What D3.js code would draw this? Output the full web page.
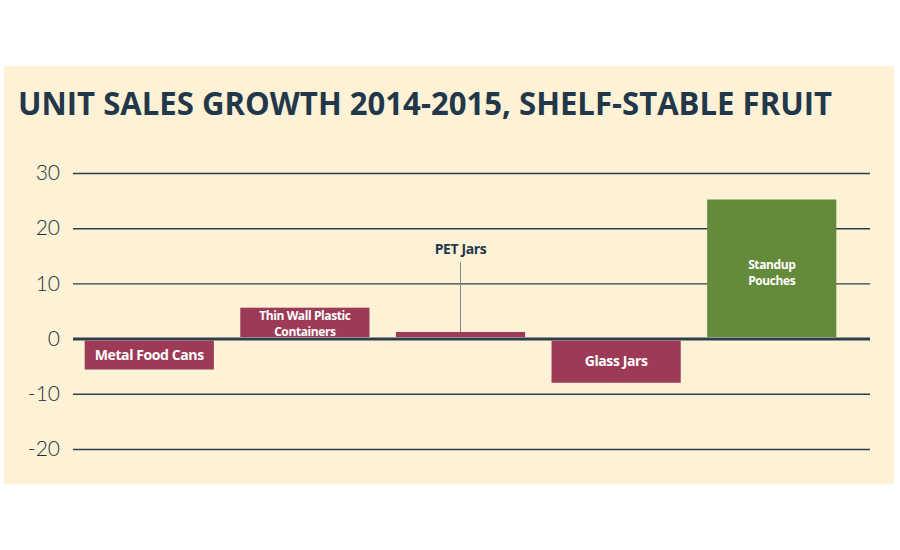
<!DOCTYPE html>
<html lang="en">
<head>
<meta charset="UTF-8"/>
<title>Unit Sales Growth 2014-2015</title>
<script src="https://d3js.org/d3.v7.min.js"></script>
<style>
  body { margin: 0; background: #ffffff; }
</style>
</head>
<body>
<div id="chart"></div>
<script>
    let width = 900;
    let height = 550;

    // data
    var categories = ["Metal Food Cans", "Thin Wall Plastic Containers", "PET Jars", "Glass Jars", "Standup Pouches"];
    var growth = [-5.6, 5.6, 1.2, -8.0, 25.2];
    var labelLines = [["Metal Food Cans"], ["Thin Wall Plastic", "Containers"], ["PET Jars"], ["Glass Jars"], ["Standup", "Pouches"]];
    var yTicks = [30, 20, 10, 0, -10, -20];

    var svg = d3.select("#chart").append("svg").attr("width", width).attr("height", height);

    // beige panel
    svg.append("rect")
        .attr("x", 4).attr("y", 66)
        .attr("width", 890).attr("height", 418)
        .attr("fill", "#fdf2d6");

    svg.append("text")
        .attr("x", 18).attr("y", 115)
        .attr("font-family", "'Open Sans', sans-serif")
        .attr("font-weight", 700)
        .attr("font-size", 33)
        .attr("fill", "#22384a")
        .attr("textLength", 814)
        .attr("lengthAdjust", "spacingAndGlyphs")
        .text("UNIT SALES GROWTH 2014-2015, SHELF-STABLE FRUIT");

    var yScale = d3.scaleLinear().domain([-20, 30]).range([449, 173]);

    var xScale = d3.scaleBand().domain(categories)
        .range([73, 848]).paddingInner(0.17).paddingOuter(0.075);

    // grid lines via axis
    var gy = svg.append("g").attr("transform", "translate(870,0)");
    gy.call(d3.axisLeft(yScale).tickValues(yTicks).tickSize(797).tickFormat(""));
    gy.select(".domain").remove();
    gy.selectAll(".tick line")
        .attr("stroke", "#2c3e4c")
        .attr("stroke-width", function (d) { return d === 0 ? 3 : 1.4; });

    // tick labels
    var gl = svg.append("g").attr("transform", "translate(60,0)");
    gl.call(d3.axisLeft(yScale).tickValues(yTicks).tickSize(0).tickPadding(0));
    gl.select(".domain").remove();
    gl.selectAll(".tick text")
        .attr("font-family", "Lato, sans-serif")
        .attr("font-weight", 300)
        .attr("font-size", 21)
        .attr("fill", "#1e3242")
        .text(function (d) { return d; });

    // bars
    svg.selectAll("rect.bar")
        .data(growth)
        .enter()
        .append("rect")
        .attr("class", "bar")
        .attr("x", function (d, i) { return xScale(categories[i]); })
        .attr("y", function (d) { return d > 0 ? yScale(d) : yScale(0) + 2; })
        .attr("width", xScale.bandwidth())
        .attr("height", function (d) { return d > 0 ? yScale(0) - 1.5 - yScale(d) : yScale(d) - yScale(0) - 2; })
        .attr("fill", function (d) { return d > 10 ? "#648a3b" : "#9c3a57"; });

    // labels, one text element per line
    var font = "'Open Sans', sans-serif";
    labelLines.forEach(function (lines, i) {
        var cx = xScale(categories[i]) + xScale.bandwidth() / 2;
        var v = growth[i];
        if (i === 2) {
            // label sits above the thin bar with a leader line
            svg.append("text")
                .attr("text-anchor", "middle")
                .attr("font-family", font).attr("font-weight", 700)
                .attr("font-size", 14).attr("letter-spacing", -0.4)
                .attr("fill", "#22384a").attr("x", cx).attr("y", 254).text(lines[0]);
            svg.append("line")
                .attr("x1", cx).attr("x2", cx)
                .attr("y1", 262).attr("y2", yScale(v))
                .attr("stroke", "#7d8890").attr("stroke-width", 1);
            return;
        }
        var mid = v > 0 ? (yScale(v) + yScale(0)) / 2 : (yScale(0) + yScale(v)) / 2 + 1;
        if (i === 4) mid = 272;
        var lh = 16;
        var top = mid - (lines.length - 1) * lh / 2 + 4.5;
        lines.forEach(function (t, j) {
            svg.append("text")
                .attr("text-anchor", "middle")
                .attr("font-family", font).attr("font-weight", 700)
                .attr("font-size", lines.length > 1 ? 12 : 14)
                .attr("letter-spacing", -0.4)
                .attr("fill", "#ffffff")
                .attr("x", cx).attr("y", top + j * lh).text(t);
        });
    });
</script>
</body>
</html>
